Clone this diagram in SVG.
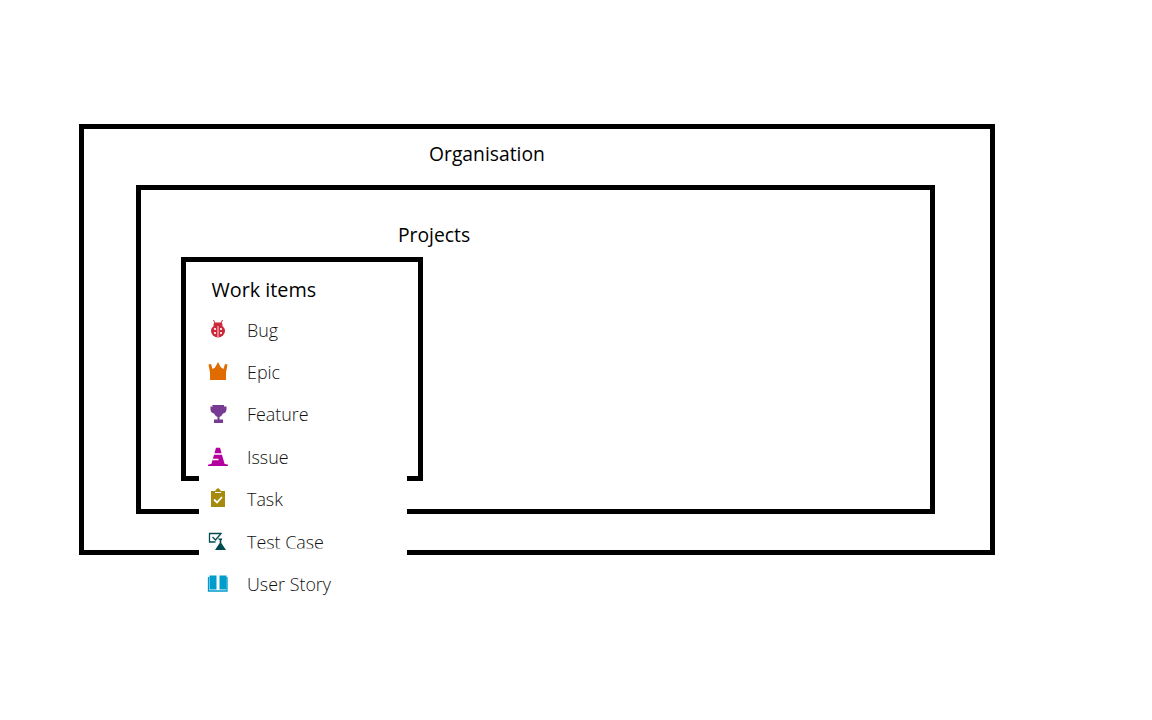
<svg xmlns="http://www.w3.org/2000/svg" width="1152" height="720" viewBox="0 0 1152 720">
<style>
.box{fill:none;stroke:#000;stroke-width:5}
.h{font-family:"Open Sans","Noto Sans",sans-serif;font-size:19.3px;fill:#000}
.i{font-family:"Open Sans","Noto Sans",sans-serif;font-size:17.900px;font-weight:300;fill:#111}
</style>
<defs><clipPath id="tc"><rect x="240" y="530" width="100" height="18.500"/></clipPath></defs>
<rect width="1152" height="720" fill="#fff"/>
<g id="organisation"><rect class="box" x="81.500" y="126.500" width="911" height="426"/><text class="h" x="429" y="161">Organisation</text></g>
<g id="projects"><rect class="box" x="138.500" y="187.500" width="794" height="324"/><text class="h" x="398" y="242">Projects</text></g>
<g id="work-items"><rect class="box" x="183.500" y="259.500" width="237" height="219"/><text class="h" x="211.500" y="297" style="font-size:19.800px">Work items</text></g>
<rect id="mask" x="199" y="470" width="208" height="86" fill="#fff"/>
<g id="bug"><g fill="#cc293d"><ellipse cx="218" cy="331" rx="7" ry="6.500"/><rect x="213.500" y="322.500" width="9" height="4.500" rx="2"/><path d="M213.500 320l1.500 3M222.500 320l-1.500 3" stroke="#cc293d" stroke-width="1"/></g><g fill="#fff"><circle cx="215" cy="329" r="1.100"/><circle cx="221" cy="329" r="1.100"/><circle cx="215" cy="333" r="1.100"/><circle cx="221" cy="333" r="1.100"/><rect x="217.600" y="326" width=".8" height="11"/></g><text class="i" x="247" y="337">Bug</text></g>
<g id="epic"><path d="M208.500 364.500l2.500-.5 1.500 5 2.500-1.500 3-5.500 3 5.500 2.500 1.500 1.500-5 2.500.5-1.500 8v7.500h-16v-7.500z" fill="#e06c00"/><text class="i" x="247" y="379">Epic</text></g>
<g id="feature"><path d="M212 405h12v1.500h2.500v3a4.500 4.500 0 0 1-3.500 4q-1.500 3-3.500 3.500v2.500h3.500v3.500h-9v-3.500h3.500v-2.500q-2-.5-3.500-3.500a4.500 4.500 0 0 1-3.500-4v-3h2.500z" fill="#773b93"/><text class="i" x="247" y="421">Feature</text></g>
<g id="issue"><path d="M208 466v-1.300l3.500-1 4.500-16h4l4.500 16 3.500 1v1.300z" fill="#b4009e"/><path d="M214 454h8M212.500 459.500h6" stroke="#fff" stroke-width="1.600"/><text class="i" x="247" y="464">Issue</text></g>
<g id="task"><path d="M211 491h4.500v-1l2.500-2 2.500 2v1h4.500v16h-14z" fill="#a58a0e"/><path d="M214 499.500l3 3 5-5.500" fill="none" stroke="#fff" stroke-width="1.800"/><path d="M215 492.500h6" stroke="#fff" stroke-width="1"/><text class="i" x="247" y="506">Task</text></g>
<g id="test-case"><path d="M221 533.500h-11.500v8.500h6" fill="none" stroke="#004b50" stroke-width="1.300"/><path d="M212.500 537l3 3 6-7" fill="none" stroke="#004b50" stroke-width="1.300"/><path d="M218 538.500h4v1.500h-.7v3l4.700 7h-11l4.700-7v-3h-.7z" fill="#004b50"/><text class="i" x="247" y="549" clip-path="url(#tc)">Test Case</text></g>
<g id="user-story"><path d="M209.500 575.500h7v14h-7zM219.500 575.500h7v14h-7z" fill="#009ccc"/><path d="M208.500 577v14h18.500v-14" fill="none" stroke="#009ccc" stroke-width="1.300"/><text class="i" x="247" y="591">User Story</text></g>
</svg>
